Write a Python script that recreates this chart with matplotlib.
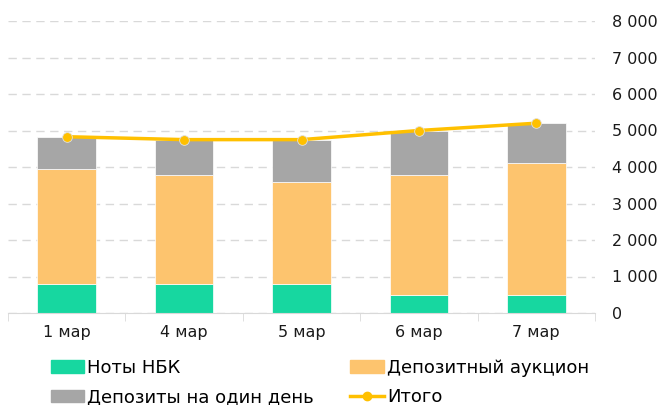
import matplotlib.pyplot as plt
import matplotlib.ticker as ticker
from matplotlib.patches import Patch
from matplotlib.lines import Line2D
import numpy as np

dates = ['1 мар', '4 мар', '5 мар', '6 мар', '7 мар']
notes = [800, 800, 800, 500, 500]
auction = [3150, 2980, 2780, 3280, 3600]
overnight = [880, 970, 1170, 1220, 1100]
total = [4830, 4750, 4750, 5000, 5200]

names = ['Ноты НБК', 'Депозитный аукцион', 'Депозиты на один день', 'Итого']
c_green = '#17D7A0'
c_orange = '#FDC46E'
c_gray = '#A6A6A6'
c_line = '#FFC000'

plt.rcParams['font.family'] = 'DejaVu Sans'
plt.rcParams['font.size'] = 11.5

fig = plt.figure(figsize=(6.62, 4.05), dpi=100)
ax = fig.add_axes([8 / 662, (405 - 313) / 405, 587 / 662, 292 / 405])

x = np.arange(len(dates))
bottom2 = np.array(notes)
bottom3 = bottom2 + np.array(auction)
ax.bar(x, notes, 0.5, color=c_green, edgecolor='white', linewidth=0.5, zorder=2)
ax.bar(x, auction, 0.5, bottom=bottom2, color=c_orange, edgecolor='white', linewidth=0.5, zorder=2)
ax.bar(x, overnight, 0.5, bottom=bottom3, color=c_gray, edgecolor='white', linewidth=0.5, zorder=2)
ax.plot(x, total, color=c_line, linewidth=2.5, marker='o', markersize=7,
        markeredgecolor='#E0E0E0', markeredgewidth=0.6, zorder=3)

ax.set_xlim(-0.5, len(dates) - 0.5)
ax.set_ylim(0, 8000)
ax.yaxis.tick_right()
ax.yaxis.set_major_locator(ticker.MultipleLocator(1000))
ax.yaxis.set_major_formatter(ticker.FuncFormatter(lambda v, p: f'{int(v):,}'.replace(',', ' ')))
ax.tick_params(axis='y', length=0, pad=12, labelcolor='#1A1A1A')
ax.grid(axis='y', color='#D9D9D9', linestyle=(0, (6, 4)), linewidth=1, zorder=0)

ax.set_xticks(x)
ax.set_xticklabels(dates)
ax.xaxis.set_minor_locator(ticker.FixedLocator(np.arange(-0.5, len(dates), 1)))
ax.tick_params(axis='x', which='major', length=0, pad=9, labelcolor='#1A1A1A')
ax.tick_params(axis='x', which='minor', length=6, color='#D9D9D9')

for s in ['top', 'right', 'left']:
    ax.spines[s].set_visible(False)
ax.spines['bottom'].set_color('#D9D9D9')

handles = [Patch(color=c_green), Patch(color=c_gray), Patch(color=c_orange),
           Line2D([], [], color=c_line, linewidth=2.5, marker='o', markersize=6)]
labels = [names[0], names[2], names[1], names[3]]
fig.legend(handles, labels, ncol=2, loc='upper left', bbox_to_anchor=(51 / 662, 1 - 359 / 405),
           frameon=False, fontsize=13, handlelength=1.85, handletextpad=0.17, columnspacing=2.0,
           labelspacing=0.62, borderpad=0, borderaxespad=0)

fig.savefig('out.png', dpi=100)
